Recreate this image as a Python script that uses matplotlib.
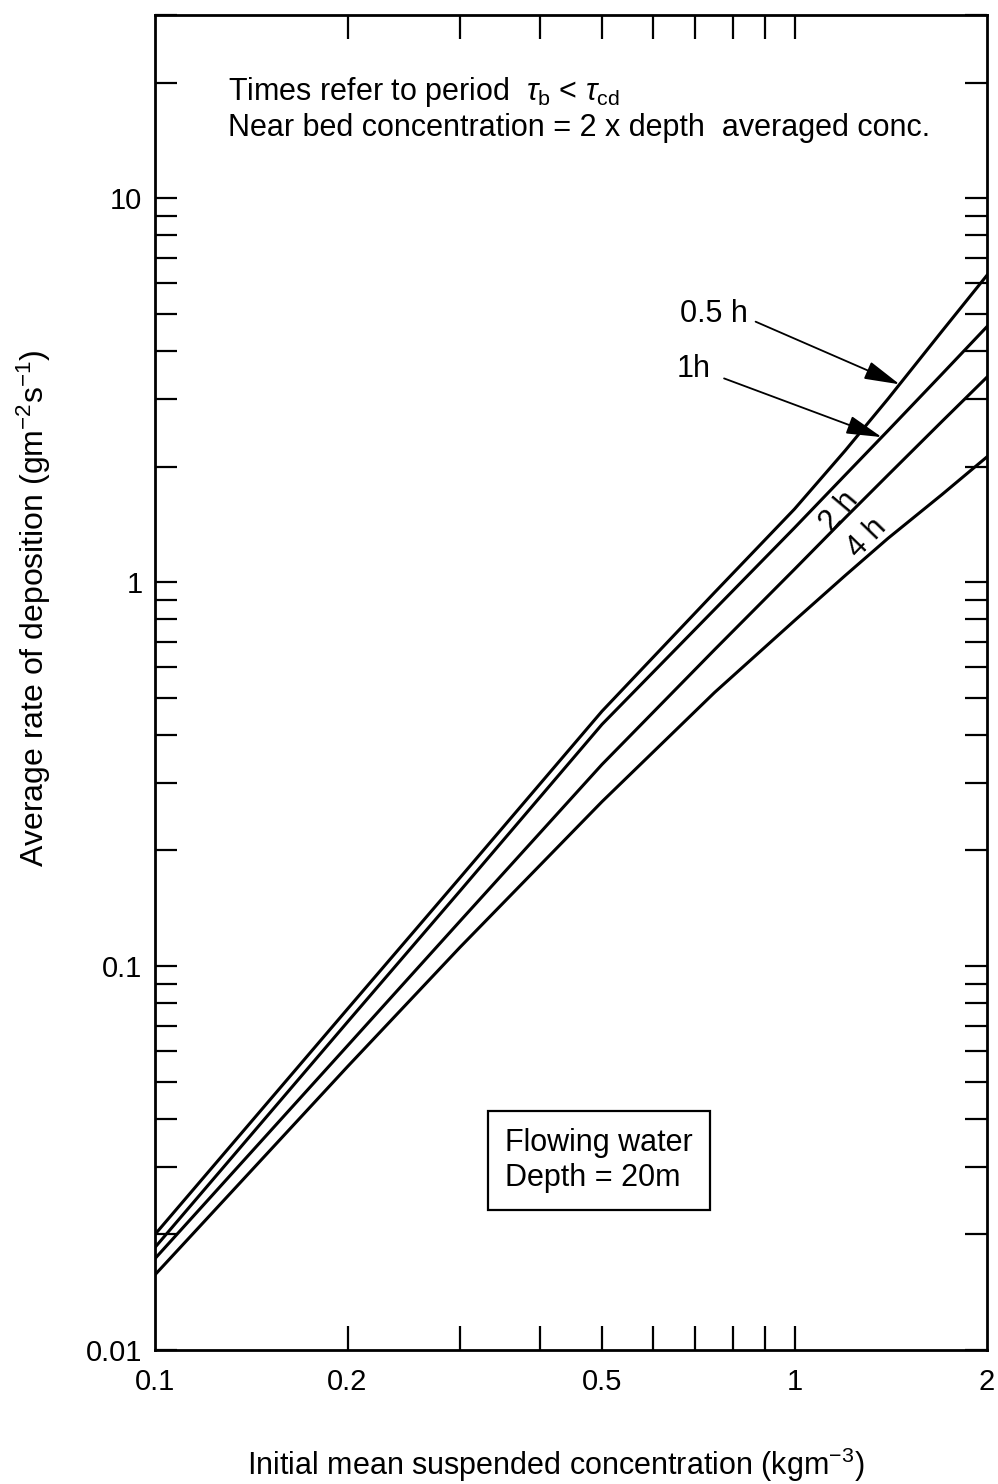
import numpy as np
import matplotlib
matplotlib.use("Agg")
import matplotlib.pyplot as plt
from matplotlib.ticker import FixedLocator, NullFormatter, FixedFormatter

plt.rcParams['font.family'] = ['Liberation Sans', 'DejaVu Sans']
plt.rcParams['mathtext.fontset'] = 'custom'
plt.rcParams['mathtext.rm'] = 'Liberation Sans'
plt.rcParams['mathtext.it'] = 'Liberation Sans:italic'

# Initial mean suspended concentration (kg m^-3)
conc = [0.1, 0.2, 0.3, 0.5, 0.75, 1.0, 1.2, 1.4, 1.7, 2.0]

# Average rate of deposition (g m^-2 s^-1) for each settling period
rate_05h = [0.0200, 0.0773, 0.170, 0.461, 0.94, 1.55, 2.20, 3.00, 4.50, 6.30]
rate_1h = [0.0185, 0.0715, 0.157, 0.426, 0.849, 1.385, 1.90, 2.48, 3.48, 4.63]
rate_2h = [0.0173, 0.0620, 0.131, 0.335, 0.667, 1.08, 1.47, 1.90, 2.62, 3.42]
rate_4h = [0.0157, 0.0547, 0.112, 0.268, 0.516, 0.794, 1.04, 1.30, 1.69, 2.12]

curve_labels = ["0.5 h", "1h", "2 h", "4 h"]

x_ticks = [0.2, 0.3, 0.4, 0.5, 0.6, 0.7, 0.8, 0.9, 1.0]
x_label_vals = [0.1, 0.2, 0.5, 1, 2]
x_label_text = ["0.1", "0.2", "0.5", "1", "2"]
y_label_vals = [0.01, 0.1, 1, 10]
y_label_text = ["0.01", "0.1", "1", "10"]

FS_TICK = 21
FS_TEXT = 22


def on_curve(xq, xs, ys):
    return 10 ** np.interp(np.log10(xq), np.log10(xs), np.log10(ys))


fig = plt.figure(figsize=(9.98, 14.84), dpi=100)
ax = fig.add_axes([0.1553, 0.0903, 0.8337, 0.8996])
ax.set_xscale('log')
ax.set_yscale('log')
ax.set_xlim(0.1, 2.0)
ax.set_ylim(0.01, 30)

for ys in (rate_05h, rate_1h, rate_2h, rate_4h):
    ax.plot(conc, ys, color='black', lw=2.2, solid_joinstyle='round')

# x ticks: inward, none beyond 1
ax.xaxis.set_major_locator(FixedLocator(x_ticks))
ax.xaxis.set_major_formatter(NullFormatter())
ax.xaxis.set_minor_locator(FixedLocator([]))
ax.tick_params(axis='x', which='major', direction='in', length=17, width=1.6,
               top=True, bottom=True)
for xv, txt in zip(x_label_vals, x_label_text):
    ax.annotate(txt, xy=(xv, 0), xycoords=('data', 'axes fraction'),
                xytext=(0, -13), textcoords='offset points',
                ha='center', va='top', fontsize=FS_TICK)

# y ticks: majors at decades, minors at 2..9
y_minor = [m * d for d in (0.01, 0.1, 1, 10) for m in range(2, 10) if m * d <= 30]
ax.yaxis.set_major_locator(FixedLocator(y_label_vals))
ax.yaxis.set_major_formatter(FixedFormatter(y_label_text))
ax.yaxis.set_minor_locator(FixedLocator(y_minor))
ax.yaxis.set_minor_formatter(NullFormatter())
ax.tick_params(axis='y', which='both', direction='in', length=16, width=1.6,
               left=True, right=True, labelsize=FS_TICK, pad=9)

for s in ax.spines.values():
    s.set_linewidth(2.0)

# Curve labels with arrows
arrow_kw = dict(arrowstyle='-|>,head_length=1.0,head_width=0.26', color='black',
                lw=1.3, mutation_scale=22, relpos=(1.0, 0.35), shrinkB=0)
ax.annotate(curve_labels[0], xy=(1.46, on_curve(1.46, conc, rate_05h)),
            xytext=(0.845, 5.0), ha='right', va='center', fontsize=FS_TEXT,
            arrowprops=dict(arrow_kw, shrinkA=4))
ax.annotate(curve_labels[1], xy=(1.369, on_curve(1.369, conc, rate_1h)),
            xytext=(0.74, 3.59), ha='right', va='center', fontsize=FS_TEXT,
            arrowprops=dict(arrow_kw, shrinkA=8))
ax.text(1.177, 1.53, curve_labels[2], rotation=50, ha='center', va='center',
        fontsize=FS_TEXT, rotation_mode='anchor')
ax.text(1.30, 1.30, curve_labels[3], rotation=46, ha='center', va='center',
        fontsize=FS_TEXT, rotation_mode='anchor')

# Notes
ax.text(0.088, 0.942,
        r"Times refer to period  $\mathit{\tau}_{\rm b}$ < $\mathit{\tau}_{\rm cd}$",
        transform=ax.transAxes, fontsize=FS_TEXT, ha='left', va='center')
ax.text(0.088, 0.915, "Near bed concentration = 2 x depth  averaged conc.",
        transform=ax.transAxes, fontsize=FS_TEXT, ha='left', va='center')

ax.text(0.421, 0.142, "Flowing water\nDepth = 20m", transform=ax.transAxes,
        fontsize=FS_TEXT, ha='left', va='center', linespacing=1.25,
        bbox=dict(boxstyle='square,pad=0.55', fc='white', ec='black', lw=1.6))

ax.set_xlabel(r"Initial mean suspended concentration (kgm$^{-3}$)", fontsize=FS_TEXT)
ax.xaxis.set_label_coords(0.482, -0.072)
ax.set_ylabel(r"Average rate of deposition (gm$^{-2}$s$^{-1}$)", fontsize=23)
ax.yaxis.set_label_coords(-0.123, 0.556)

fig.savefig("out.png", dpi=100, facecolor='white')
